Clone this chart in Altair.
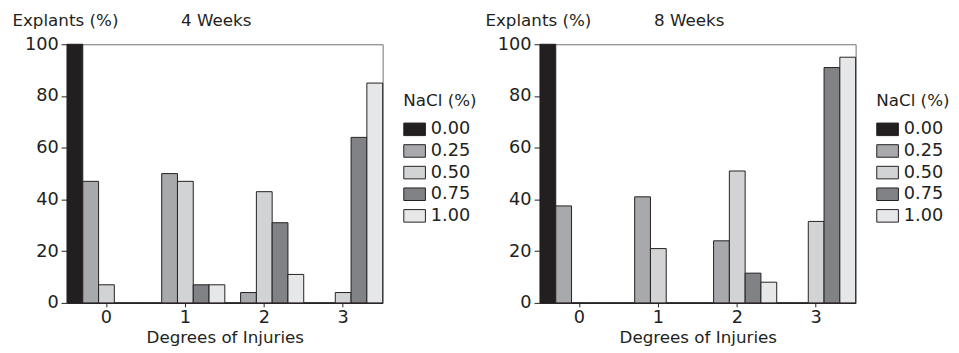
import altair as alt
import pandas as pd

degrees = ["0", "1", "2", "3"]
nacl_levels = ["0.00", "0.25", "0.50", "0.75", "1.00"]
nacl_colors = ["#231f20", "#a7a9ac", "#d1d3d4", "#808285", "#e6e7e8"]
y_ticks = [0, 20, 40, 60, 80, 100]

# 4 weeks: values per degree (0,1,2,3) for each NaCl level
w4_nacl_000 = [100, 0, 0, 0]
w4_nacl_025 = [47, 50, 4, 0]
w4_nacl_050 = [7, 47, 43, 4]
w4_nacl_075 = [0, 7, 31, 64]
w4_nacl_100 = [0, 7, 11, 85]

# 8 weeks
w8_nacl_000 = [100, 0, 0, 0]
w8_nacl_025 = [37.5, 41, 24, 0]
w8_nacl_050 = [0, 21, 51, 31.5]
w8_nacl_075 = [0, 0, 11.5, 91]
w8_nacl_100 = [0, 0, 8, 95]

TXT = "#231f20"


def make_df(series):
    rows = []
    for lvl, vals in zip(nacl_levels, series):
        for d, v in zip(degrees, vals):
            rows.append({"degree": d, "nacl": lvl, "value": v})
    return pd.DataFrame(rows)


def panel(label, series):
    df = make_df(series)
    bars = alt.Chart(df).mark_bar(stroke=TXT, strokeWidth=1).encode(
        x=alt.X("degree:N", sort=degrees,
                scale=alt.Scale(domain=degrees, paddingInner=0, paddingOuter=0),
                axis=alt.Axis(title="Degrees of Injuries", labelAngle=0,
                              tickSize=4, labelPadding=2, titlePadding=3,
                              titleFontSize=17)),
        xOffset=alt.XOffset("nacl:N", scale=alt.Scale(domain=nacl_levels, paddingInner=0, paddingOuter=0)),
        y=alt.Y("value:Q", scale=alt.Scale(domain=[0, 100], nice=False),
                axis=alt.Axis(values=y_ticks, title="Explants (%)", titleAngle=0,
                              titleX=-56, titleY=-19, titleAlign="left",
                              titleBaseline="alphabetic", titleFontSize=17,
                              tickSize=6, labelPadding=3, grid=False)),
        color=alt.Color("nacl:N", scale=alt.Scale(domain=nacl_levels, range=nacl_colors),
                        legend=alt.Legend(orient="none", legendX=342, legendY=50,
                                          title="NaCl (%)", titleFontSize=17,
                                          titleFontWeight="normal", titleColor=TXT,
                                          titlePadding=8,
                                          labelFontSize=18, labelColor=TXT,
                                          symbolType="M-1,-0.58H1V0.58H-1Z",
                                          symbolSize=484, symbolStrokeColor=TXT,
                                          symbolStrokeWidth=1, symbolOpacity=1,
                                          rowPadding=1, labelOffset=5, padding=0)),
    )
    title = alt.Chart(pd.DataFrame({"t": [label]})).mark_text(
        align="left", baseline="alphabetic", fontSize=17, color=TXT
    ).encode(text="t:N", x=alt.value(116), y=alt.value(-19))
    return alt.layer(bars, title).properties(width=321, height=263)


left = panel("4 Weeks", [w4_nacl_000, w4_nacl_025, w4_nacl_050, w4_nacl_075, w4_nacl_100])
right = panel("8 Weeks", [w8_nacl_000, w8_nacl_025, w8_nacl_050, w8_nacl_075, w8_nacl_100])

chart = alt.hconcat(left, right, spacing=6).resolve_scale(
    color="independent", x="independent", y="independent", xOffset="independent"
).properties(
    padding={"left": 3, "top": 0, "right": 0, "bottom": 0}
).configure(font="DejaVu Sans").configure_view(
    stroke="#6d6e71", strokeWidth=1
).configure_axis(
    labelFontSize=18, labelColor=TXT, titleColor=TXT, titleFontWeight="normal",
    domainColor=TXT, tickColor=TXT, domainWidth=1, tickWidth=1
)

chart.save("out.html", embed_options={"renderer": "svg", "actions": False})
